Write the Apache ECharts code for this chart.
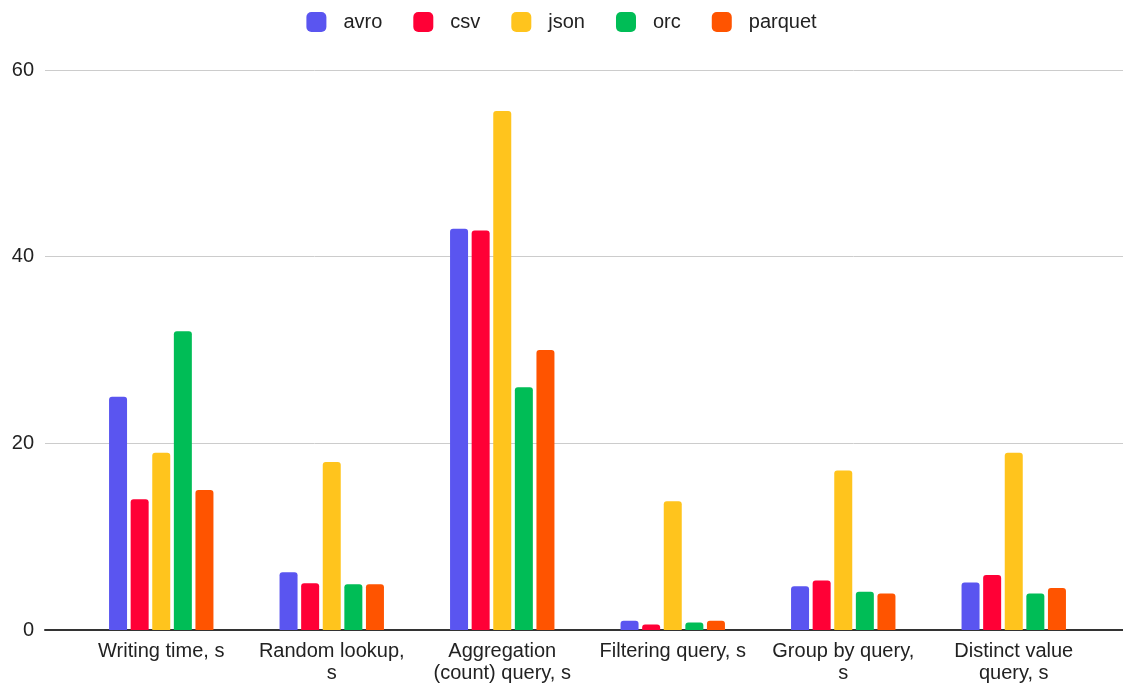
<!DOCTYPE html>
<html>
<head>
<meta charset="utf-8">
<script src="https://cdn.jsdelivr.net/npm/echarts@6/dist/echarts.min.js"></script>
<style>
  html, body { margin: 0; padding: 0; background: #fff; }
  #chart { width: 1123px; height: 686px; }
</style>
</head>
<body>
<div id="chart"></div>
<script>
const categories = [
  'Writing time, s',
  'Random lookup,\ns',
  'Aggregation\n(count) query, s',
  'Filtering query, s',
  'Group by query,\ns',
  'Distinct value\nquery, s'
]
const formats = ['avro', 'csv', 'json', 'orc', 'parquet']
const avro = [25, 6.2, 43, 1.0, 4.7, 5.1]
const csv = [14, 5.0, 42.8, 0.6, 5.3, 5.9]
const json = [19, 18, 55.6, 13.8, 17.1, 19.0]
const orc = [32, 4.9, 26, 0.8, 4.1, 3.9]
const parquet = [15, 4.9, 30, 1.0, 3.9, 4.5]
const colors = ['#5a55f0', '#ff0036', '#ffc41d', '#00bd56', '#ff5400']
const yTicks = { min: 0, max: 60, interval: 20 }

const seriesData = [avro, csv, json, orc, parquet]
const font = 'Liberation Sans, Arial, sans-serif'

const chart = echarts.init(document.getElementById('chart'), null, { renderer: 'canvas' })

const option = {
  animation: false,
  color: colors,
  textStyle: { fontFamily: font },
  legend: {
    top: 7,
    left: 'center',
    itemWidth: 20,
    itemHeight: 20,
    itemGap: 31,
    icon: 'roundRect',
    textStyle: { fontSize: 20, color: '#222', fontFamily: font, padding: [0, 0, 0, 12] },
    data: formats
  },
  grid: [
    { left: 45, right: 0, top: 70, bottom: 56 },
    { left: 76, right: 24, top: 70, bottom: 56 }
  ],
  xAxis: [
    {
      gridIndex: 0,
      type: 'category',
      data: categories,
      axisLine: { show: true, lineStyle: { color: '#333', width: 2 } },
      axisTick: { show: false },
      axisLabel: { show: false }
    },
    {
      gridIndex: 1,
      type: 'category',
      data: categories,
      axisLine: { show: false },
      axisTick: { show: false },
      axisLabel: {
        interval: 0,
        margin: 10,
        fontSize: 20,
        lineHeight: 22,
        color: '#222',
        fontFamily: font
      }
    }
  ],
  yAxis: [
    {
      gridIndex: 0,
      type: 'value',
      min: yTicks.min,
      max: yTicks.max,
      interval: yTicks.interval,
      axisLine: { show: false },
      axisTick: { show: false },
      axisLabel: { margin: 11, fontSize: 20, color: '#222', fontFamily: font },
      splitLine: { lineStyle: { color: '#cccccc', width: 1 } }
    },
    {
      gridIndex: 1,
      type: 'value',
      min: yTicks.min,
      max: yTicks.max,
      interval: yTicks.interval,
      show: false,
      splitLine: { show: false }
    }
  ],
  series: formats.map((name, i) => ({
    name,
    type: 'bar',
    xAxisIndex: 1,
    yAxisIndex: 1,
    data: seriesData[i],
    barWidth: 18,
    barGap: '20%',
    barCategoryGap: '38%',
    itemStyle: { borderRadius: [3, 3, 0, 0] }
  }))
}
chart.setOption(option)
</script>
</body>
</html>
